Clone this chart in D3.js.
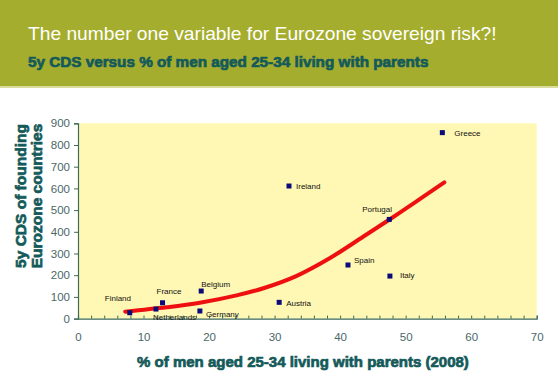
<!DOCTYPE html>
<html><head><meta charset="utf-8">
<script src="https://cdn.jsdelivr.net/npm/d3@7"></script>
<style>body{margin:0;background:#fff;}svg{display:block;}</style>
</head><body>
<svg id="c" width="558" height="379"></svg>
<script>
// ---- data ----
const countries = ["Finland","France","Belgium","Germany","Netherlands","Austria","Spain","Italy","Portugal","Ireland","Greece"];
const menLivingWithParents = [7.9, 12.9, 18.8, 18.6, 11.9, 30.7, 41.2, 47.6, 47.5, 32.2, 55.6];
const cds5y = [27, 73, 127, 35, 44, 75, 247, 196, 457, 611, 857];
const trendX = [7.2, 13.5, 18.6, 24.2, 28.3, 33.3, 38.4, 43.5, 47.6, 51.6, 55.9];
const trendY = [32, 52, 73, 107, 140, 196, 278, 377, 458, 539, 628];
const xTicks = [0,10,20,30,40,50,60,70];
const yTicks = [0,100,200,300,400,500,600,700,800,900];
const title = "The number one variable for Eurozone sovereign risk?!";
const subtitle = "5y CDS versus % of men aged 25-34 living with parents";
const yTitle = ["5y CDS of founding","Eurozone countries"];
const xTitle = "% of men aged 25-34 living with parents (2008)";

// label placement (layout only)
const labelOffset = {
  Finland:[-25,-15], France:[-6,-12], Belgium:[0,-7], Germany:[6,3],
  Netherlands:[-3,8], Austria:[7,1], Spain:[6,-5], Italy:[10,-1],
  Portugal:[-27,-10], Ireland:[7,0], Greece:[12,0]
};

const svg = d3.select("#c");
const teal = "#145a5a";
const FF = "Liberation Sans, Arial, sans-serif";

// fit a text's font size so that its natural width equals w
function fitWidth(sel, w, base){
  const n = sel.node().getComputedTextLength();
  sel.attr("font-size", base * w / n);
}

// header band
svg.append("rect").attr("x",0).attr("y",0).attr("width",558).attr("height",86).attr("fill","#a5ad2e");
svg.append("rect").attr("x",0).attr("y",86).attr("width",558).attr("height",2).attr("fill","#d9dc9c");
const t1 = svg.append("text").attr("x",28).attr("y",40).text(title)
  .attr("fill","#fff").attr("font-family",FF).attr("font-size",22);
fitWidth(t1, 469, 22);
const t2 = svg.append("text").attr("x",28).attr("y",67).text(subtitle)
  .attr("fill",teal).attr("font-family",FF).attr("font-weight","bold").attr("font-size",15)
  .attr("stroke",teal).attr("stroke-width",0.7);
fitWidth(t2, 401, 15);

// scales
const x = d3.scaleLinear().domain([0,70]).range([78,536.7]);
const y = d3.scaleLinear().domain([0,900]).range([318.6,123.3]);

// plot background
svg.append("rect").attr("x",x(0)).attr("y",y(900)).attr("width",x(70)-x(0)).attr("height",y(0)-y(900)).attr("fill","#fff8b4");

// axes
const axisCol = "#3d6a5a";
const yAxis = svg.append("g").attr("transform",`translate(${x(0)},0)`)
  .call(d3.axisLeft(y).tickValues(yTicks).tickSize(4).tickPadding(4));
const xAxis = svg.append("g").attr("transform",`translate(0,${y(0)})`)
  .call(d3.axisBottom(x).tickValues(d3.range(0,71,2)).tickSize(-3).tickFormat(""));
const xLab = svg.append("g").attr("transform",`translate(0,${y(0)})`)
  .call(d3.axisBottom(x).tickValues(xTicks).tickSize(0).tickPadding(14));
xLab.select(".domain").remove();
[yAxis,xAxis].forEach(g=>{g.select(".domain").attr("stroke",axisCol).attr("stroke-width",1.2);g.selectAll("line").attr("stroke",axisCol);});
[yAxis,xLab].forEach(g=>g.selectAll("text").attr("fill","#4a6868").attr("font-size",11.5).attr("font-family",FF));

// trend line
const line = d3.line().x((d,i)=>x(trendX[i])).y((d,i)=>y(trendY[i])).curve(d3.curveCatmullRom);
svg.append("path").attr("d",line(trendX)).attr("fill","none").attr("stroke","#ee1010").attr("stroke-width",4).attr("stroke-linecap","round");

// points
const pts = countries.map((c,i)=>({c, xv:menLivingWithParents[i], yv:cds5y[i]}));
svg.selectAll("rect.pt").data(pts).enter().append("rect").attr("class","pt")
  .attr("x",d=>x(d.xv)-2.5).attr("y",d=>y(d.yv)-2.5).attr("width",5).attr("height",5).attr("fill","#0a0a78");
svg.selectAll("text.lbl").data(pts).enter().append("text").attr("class","lbl")
  .attr("x",d=>x(d.xv)+labelOffset[d.c][0]).attr("y",d=>y(d.yv)+labelOffset[d.c][1]+3)
  .text(d=>d.c).attr("font-size",8).attr("font-family",FF).attr("fill","#111");

// axis titles
const yt = svg.append("text").attr("transform","translate(0,196) rotate(-90)")
  .attr("text-anchor","middle").attr("fill",teal).attr("font-family",FF)
  .attr("font-weight","bold").attr("font-size",15.5).attr("stroke",teal).attr("stroke-width",0.7);
yt.append("tspan").attr("x",0).attr("y",26).text(yTitle[0]);
yt.append("tspan").attr("x",0).attr("y",42).text(yTitle[1]);
svg.append("text").attr("x",303).attr("y",367).attr("text-anchor","middle").text(xTitle)
  .attr("fill",teal).attr("font-family",FF)
  .attr("font-weight","bold").attr("font-size",15).attr("stroke",teal).attr("stroke-width",0.7);
</script>
</body></html>
